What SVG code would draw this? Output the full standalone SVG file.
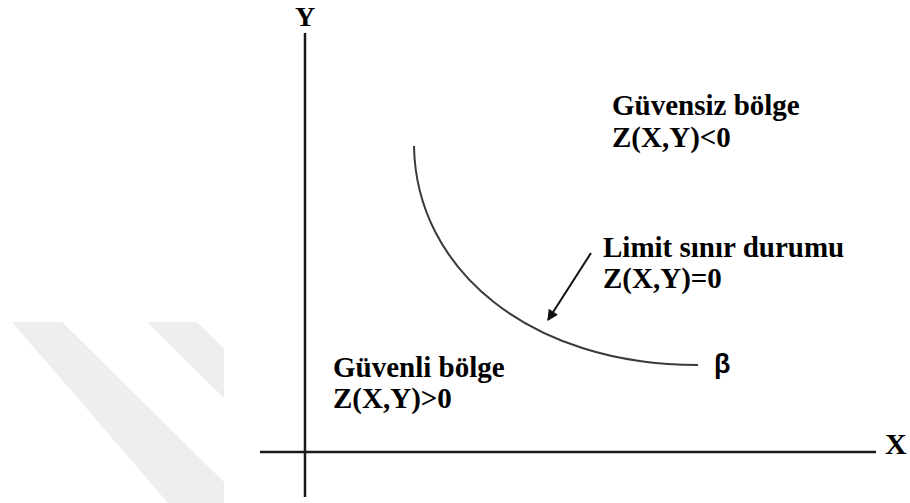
<svg xmlns="http://www.w3.org/2000/svg" width="910" height="503" viewBox="0 0 910 503">
  <style>
    .lbl { font-family: "Liberation Serif", "Times New Roman", serif; font-weight: bold; font-size: 29px; fill: #000; }
    .axis { stroke: #1a1a1a; stroke-width: 2.5; fill: none; }
    .curve { stroke: #3a3a3a; stroke-width: 2; fill: none; }
    .arrow { stroke: #111; stroke-width: 2; fill: none; }
    .wm { fill: #eeeeee; }
  </style>
  <defs>
    <marker id="ah" viewBox="0 0 10 10" refX="9" refY="5" markerWidth="13" markerHeight="11" markerUnits="userSpaceOnUse" orient="auto">
      <path d="M0,0 L10,5 L0,10 z" fill="#111"/>
    </marker>
  </defs>
  <rect x="0" y="0" width="910" height="503" fill="#ffffff"/>
  <g id="watermark">
    <polygon class="wm" points="12,322 62,322 224,482 224,503 168,503"/>
    <polygon class="wm" points="147,322 197,322 224,349 224,398"/>
  </g>
  <g id="connectors">
    <line id="y-axis" class="axis" x1="305" y1="33" x2="305" y2="497"/>
    <line id="x-axis" class="axis" x1="260" y1="452" x2="876" y2="452"/>
    <path id="limit-curve" class="curve" d="M414,146 C416,270 530,365 698,365"/>
    <path id="pointer" class="arrow" d="M591,253 L548,320" marker-end="url(#ah)"/>
  </g>
  <g id="axis-y-label"><text class="lbl" x="305" y="26" text-anchor="middle" style="font-size:28px">Y</text></g>
  <g id="axis-x-label"><text class="lbl" x="885" y="454" style="font-size:30px">X</text></g>
  <g id="unsafe-region">
    <text class="lbl" x="612" y="115">Güvensiz bölge</text>
    <text class="lbl" x="612" y="147">Z(X,Y)&lt;0</text>
  </g>
  <g id="limit-state">
    <text class="lbl" x="603" y="257">Limit sınır durumu</text>
    <text class="lbl" x="603" y="288">Z(X,Y)=0</text>
  </g>
  <g id="safe-region">
    <text class="lbl" x="333" y="377">Güvenli bölge</text>
    <text class="lbl" x="333" y="408">Z(X,Y)&gt;0</text>
  </g>
  <g id="beta-label">
    <text x="714" y="373" style="font-family:'Liberation Sans', Arial, sans-serif; font-weight:bold; font-size:27px; fill:#000">β</text>
  </g>
</svg>
